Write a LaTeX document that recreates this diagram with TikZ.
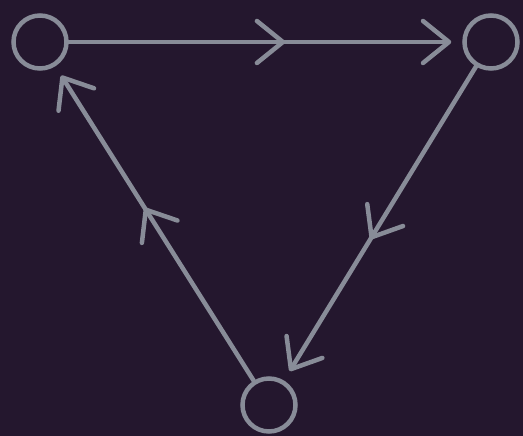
\documentclass[tikz,border=0pt]{standalone}
\usepackage{tikz}
\usetikzlibrary{arrows.meta,decorations.markings}
\definecolor{bgpurple}{RGB}{36,23,46}
\definecolor{linegray}{RGB}{136,140,152}
\tikzset{
  chev/.tip={Straight Barb[length=26pt,width=42pt,line cap=round,line join=round]},
  cyc_node/.style={circle,draw=linegray,line width=4.5pt,
    minimum size=53pt,inner sep=0pt},
  cyc_arr/.style={draw=linegray,line width=4.5pt,line cap=round,
    -{chev},shorten >=11pt,
    postaction={decorate},
    decoration={markings,mark=at position 0.55 with {\arrow{chev}}}},
}

\begin{document}
\begin{tikzpicture}[x=1pt,y=1pt]
  \fill[bgpurple] (0,0) rectangle (523,436);
  \useasboundingbox (0,0) rectangle (523,436);
  \node (tl) [cyc_node] at (40,394) {};
  \node (tr) [cyc_node] at (491,394) {};
  \node (bot) [cyc_node] at (269,31) {};
  \draw[cyc_arr] (tl) -- (tr);
  \draw[cyc_arr] (tr) -- (bot);
  \draw[cyc_arr] (bot) -- (tl);
\end{tikzpicture}
\end{document}
